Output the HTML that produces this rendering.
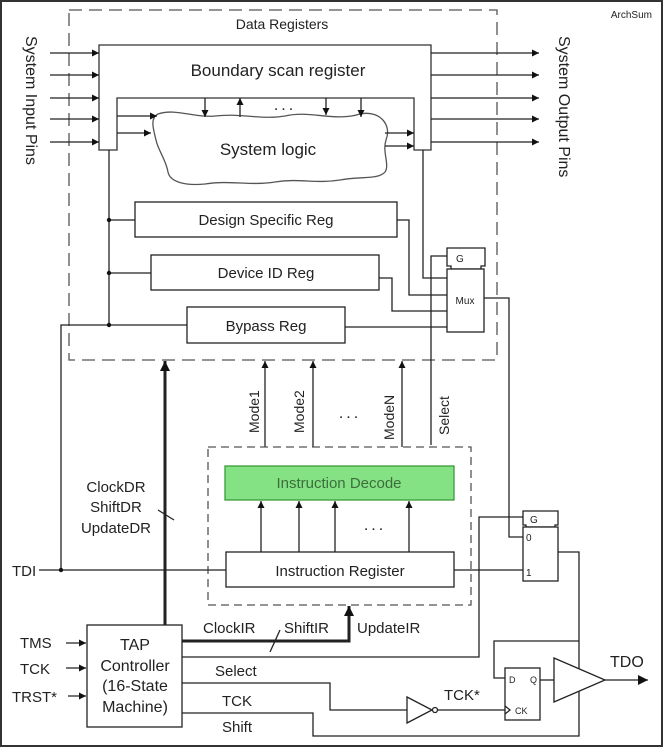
<!DOCTYPE html>
<html><head><meta charset="utf-8"><style>
html,body{margin:0;padding:0;background:#fff}
svg{display:block}
text{font-family:"Liberation Sans",Arial,sans-serif;fill:#222}
</style></head><body>
<svg width="663" height="747" viewBox="0 0 663 747" xmlns="http://www.w3.org/2000/svg">
<defs>
<marker id="a" viewBox="0 0 10 10" refX="10" refY="5" markerWidth="7" markerHeight="7" markerUnits="userSpaceOnUse" orient="auto"><path d="M0,0 L10,5 L0,10 z" fill="#111"/></marker>
<marker id="b" viewBox="0 0 10 10" refX="10" refY="5" markerWidth="10" markerHeight="10" markerUnits="userSpaceOnUse" orient="auto"><path d="M0,0 L10,5 L0,10 z" fill="#111"/></marker>
</defs>
<rect x="1" y="1" width="661" height="745" fill="#fff" stroke="#333" stroke-width="2"/>
<text x="652" y="18" font-size="10" text-anchor="end">ArchSum</text>
<g fill="none" stroke="#333" stroke-width="1.3">
<!-- data registers dashed -->
<rect x="69" y="10" width="428" height="350" stroke-dasharray="13,7" stroke="#555"/>
<!-- boundary scan -->
<path d="M99,45 H431 V150 H414 V98 H117 V150 H99 Z" fill="#fff"/>
<!-- cloud -->
<path d="M158,114 C175,108 195,118 215,116 C240,113 262,120 285,116 C310,110 335,122 360,114 C380,110 392,125 386,140 C382,152 390,165 385,172 C378,180 360,176 340,180 C315,184 300,178 275,182 C250,186 230,180 205,184 C185,186 170,182 168,172 C166,160 158,150 156,140 C153,128 150,118 158,114 Z" fill="#fff" stroke="#555"/>
</g>
<g stroke="#222" stroke-width="1.3" fill="none">
<line x1="50" y1="53" x2="99" y2="53" marker-end="url(#a)"/>
<line x1="50" y1="75" x2="99" y2="75" marker-end="url(#a)"/>
<line x1="50" y1="98" x2="99" y2="98" marker-end="url(#a)"/>
<line x1="50" y1="119" x2="99" y2="119" marker-end="url(#a)"/>
<line x1="50" y1="142" x2="99" y2="142" marker-end="url(#a)"/>
<line x1="431" y1="53" x2="539" y2="53" marker-end="url(#a)"/>
<line x1="431" y1="75" x2="539" y2="75" marker-end="url(#a)"/>
<line x1="431" y1="98" x2="539" y2="98" marker-end="url(#a)"/>
<line x1="431" y1="119" x2="539" y2="119" marker-end="url(#a)"/>
<line x1="431" y1="142" x2="539" y2="142" marker-end="url(#a)"/>
<line x1="117" y1="116" x2="157" y2="116" marker-end="url(#a)"/>
<line x1="117" y1="133" x2="151" y2="133" marker-end="url(#a)"/>
<line x1="385" y1="133" x2="414" y2="133" marker-end="url(#a)"/>
<line x1="385" y1="146" x2="414" y2="146" marker-end="url(#a)"/>
<line x1="205" y1="98" x2="205" y2="117" marker-end="url(#a)"/>
<line x1="326" y1="98" x2="326" y2="115" marker-end="url(#a)"/>
<line x1="361" y1="98" x2="361" y2="117" marker-end="url(#a)"/>
<line x1="240" y1="117" x2="240" y2="98" marker-end="url(#a)"/>
<!-- left vertical -->
<line x1="109" y1="150" x2="109" y2="325"/>
<line x1="109" y1="220" x2="135" y2="220"/>
<line x1="109" y1="273" x2="151" y2="273"/>
<path d="M61,570 V325 H187"/>
<!-- regs -->
<rect x="135" y="202" width="262" height="35" fill="#fff"/>
<rect x="151" y="255" width="228" height="35" fill="#fff"/>
<rect x="187" y="307" width="158" height="36" fill="#fff"/>
<path d="M397,220 H409 V295 H447"/>
<path d="M379,278 H392 V311 H447"/>
<path d="M345,327 H447"/>
<path d="M423,150 V278 H447"/>
<!-- mux1 -->
<path d="M447,248 H485 V266 H481 V269 H451 V266 H447 Z" fill="#fff"/>
<rect x="447" y="269" width="37" height="63" fill="#fff"/>
<path d="M431,445 V256 H447"/>
<path d="M484,298 H509 V537 H523"/>
<!-- thick DR arrow -->
<line x1="165" y1="625" x2="165" y2="361" stroke-width="3" marker-end="url(#b)"/>
<!-- mode lines -->
<line x1="265" y1="447" x2="265" y2="361" marker-end="url(#a)"/>
<line x1="313" y1="447" x2="313" y2="361" marker-end="url(#a)"/>
<line x1="402" y1="447" x2="402" y2="361" marker-end="url(#a)"/>
<!-- IR dashed box -->
<rect x="208" y="447" width="263" height="158" stroke-dasharray="8,5" stroke="#555"/>
<rect x="225" y="466" width="229" height="34" fill="#84e184" stroke="#3a9a3a"/>
<line x1="261" y1="552" x2="261" y2="501" marker-end="url(#a)"/>
<line x1="299" y1="552" x2="299" y2="501" marker-end="url(#a)"/>
<line x1="335" y1="552" x2="335" y2="501" marker-end="url(#a)"/>
<line x1="409" y1="552" x2="409" y2="501" marker-end="url(#a)"/>
<rect x="226" y="552" width="228" height="35" fill="#fff"/>
<line x1="39" y1="570" x2="226" y2="570"/>
<line x1="454" y1="570" x2="523" y2="570"/>
<!-- mux2 -->
<path d="M523,511 H558 V525 H555 V527 H526 V525 H523 Z" fill="#fff"/>
<rect x="523" y="527" width="35" height="54" fill="#fff"/>
<path d="M182,657 H479 V517 H523"/>
<path d="M558,552 H579 V736 H313 V713 H182"/>
<path d="M579,641 H494 V678 H505"/>
<!-- TAP -->
<rect x="87" y="625" width="95" height="102" fill="#fff"/>
<path d="M182,641 H349 V606" stroke-width="3" marker-end="url(#b)"/>
<line x1="270" y1="652" x2="280" y2="630"/>
<line x1="158" y1="510" x2="174" y2="520"/>
<path d="M182,683 H330 V710 H407"/>
<line x1="66" y1="643" x2="86" y2="643" marker-end="url(#a)"/>
<line x1="66" y1="668" x2="86" y2="668" marker-end="url(#a)"/>
<line x1="68" y1="696" x2="86" y2="696" marker-end="url(#a)"/>
<!-- inverter -->
<path d="M407,697 L432,710 L407,723 Z" fill="#fff"/>
<circle cx="435" cy="710" r="2.5" fill="#fff"/>
<line x1="438" y1="710" x2="505" y2="710"/>
<!-- DFF -->
<rect x="505" y="668" width="35" height="52" fill="#fff"/>
<path d="M505,706 L510,710 L505,714"/>
<line x1="540" y1="680" x2="554" y2="680"/>
<path d="M554,658 L605,680 L554,702 Z" fill="#fff"/>
<line x1="605" y1="680" x2="648" y2="680" marker-end="url(#b)"/>
</g>
<circle cx="109" cy="220" r="2.2" fill="#111"/>
<circle cx="109" cy="273" r="2.2" fill="#111"/>
<circle cx="109" cy="325" r="2.2" fill="#111"/>
<circle cx="61" cy="570" r="2.2" fill="#111"/>
<text x="282" y="29" font-size="14" text-anchor="middle">Data Registers</text>
<text x="278" y="76" font-size="17" text-anchor="middle">Boundary scan register</text>
<text x="268" y="155" font-size="17" text-anchor="middle">System logic</text>
<text x="285" y="110" font-size="16" text-anchor="middle" letter-spacing="3">...</text>
<text x="266" y="225" font-size="15" text-anchor="middle">Design Specific Reg</text>
<text x="266" y="278" font-size="15" text-anchor="middle">Device ID Reg</text>
<text x="266" y="331" font-size="15" text-anchor="middle">Bypass Reg</text>
<text x="456" y="262" font-size="10">G</text>
<text x="465" y="304" font-size="10" text-anchor="middle">Mux</text>
<text transform="translate(26,36) rotate(90)" font-size="16">System Input  Pins</text>
<text transform="translate(559,36) rotate(90)" font-size="16">System Output Pins</text>
<text transform="translate(259,433) rotate(-90)" font-size="14">Mode1</text>
<text transform="translate(304,433) rotate(-90)" font-size="14">Mode2</text>
<text transform="translate(394,440) rotate(-90)" font-size="14">ModeN</text>
<text transform="translate(449,435) rotate(-90)" font-size="14">Select</text>
<text x="350" y="418" font-size="16" text-anchor="middle" letter-spacing="3">...</text>
<text x="375" y="530" font-size="16" text-anchor="middle" letter-spacing="3">...</text>
<text x="339" y="488" font-size="15" fill="#3c6e3c" text-anchor="middle" style="fill:#3c6e3c">Instruction Decode</text>
<text x="340" y="576" font-size="15" text-anchor="middle">Instruction Register</text>
<text x="116" y="492" font-size="15" text-anchor="middle">ClockDR</text>
<text x="116" y="512" font-size="15" text-anchor="middle">ShiftDR</text>
<text x="116" y="533" font-size="15" text-anchor="middle">UpdateDR</text>
<text x="12" y="576" font-size="15">TDI</text>
<text x="530" y="523" font-size="10">G</text>
<text x="526" y="541" font-size="10">0</text>
<text x="526" y="576" font-size="10">1</text>
<text x="203" y="633" font-size="15">ClockIR</text>
<text x="284" y="633" font-size="15">ShiftIR</text>
<text x="357" y="633" font-size="15">UpdateIR</text>
<text x="135" y="650" font-size="16" text-anchor="middle">TAP</text>
<text x="135" y="671" font-size="16" text-anchor="middle">Controller</text>
<text x="135" y="691" font-size="16" text-anchor="middle">(16-State</text>
<text x="135" y="712" font-size="16" text-anchor="middle">Machine)</text>
<text x="20" y="648" font-size="15">TMS</text>
<text x="20" y="674" font-size="15">TCK</text>
<text x="12" y="702" font-size="15">TRST*</text>
<text x="215" y="676" font-size="15">Select</text>
<text x="222" y="706" font-size="15">TCK</text>
<text x="222" y="732" font-size="15">Shift</text>
<text x="444" y="700" font-size="15">TCK*</text>
<text x="509" y="683" font-size="9">D</text>
<text x="530" y="683" font-size="9">Q</text>
<text x="515" y="714" font-size="9">CK</text>
<text x="610" y="667" font-size="16">TDO</text>
</svg>
</body></html>
